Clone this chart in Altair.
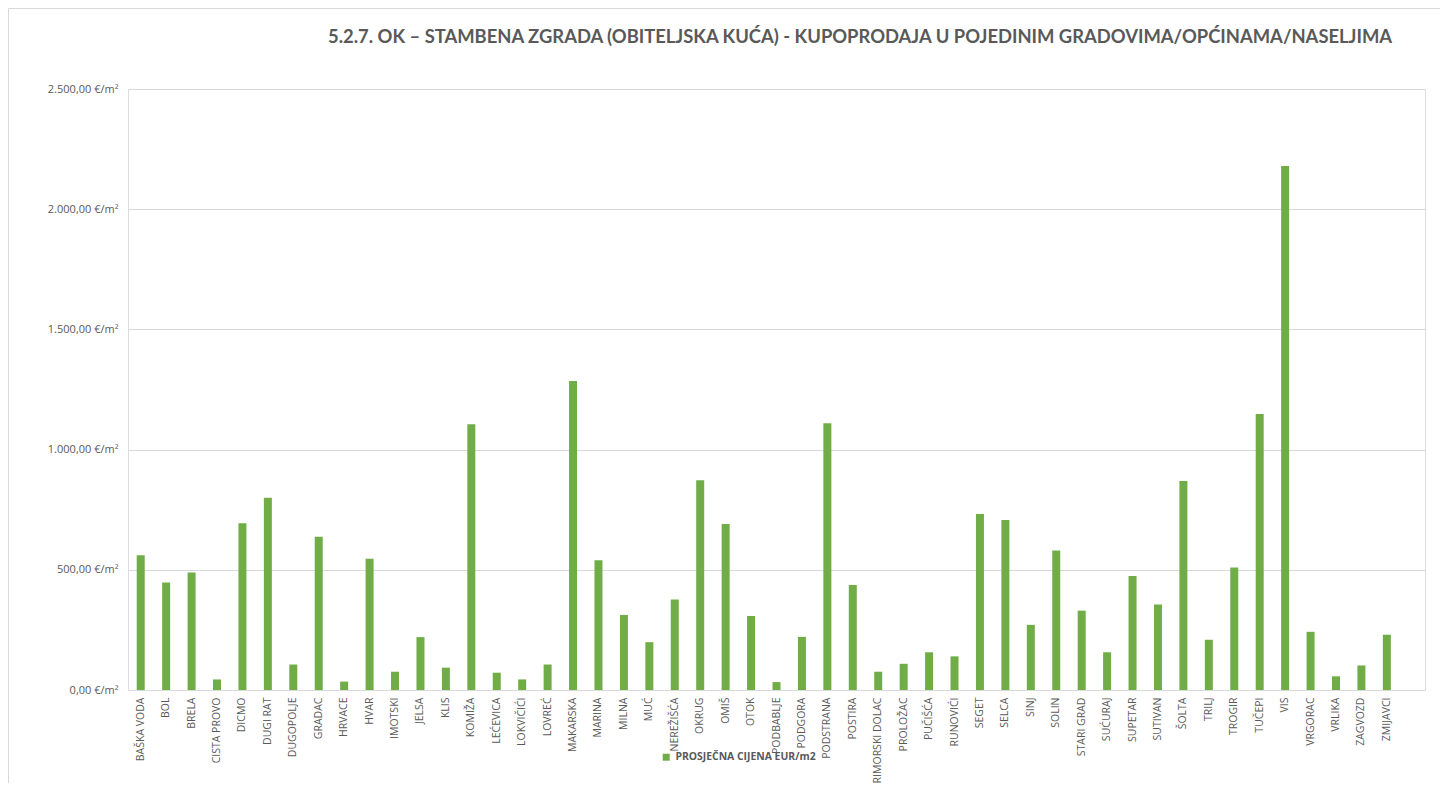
import altair as alt
import pandas as pd

cities = ["BAŠKA VODA", "BOL", "BRELA", "CISTA PROVO", "DICMO", "DUGI RAT", "DUGOPOLJE",
          "GRADAC", "HRVACE", "HVAR", "IMOTSKI", "JELSA", "KLIS", "KOMIŽA", "LEĆEVICA",
          "LOKVIČIĆI", "LOVREĆ", "MAKARSKA", "MARINA", "MILNA", "MUĆ", "NEREŽIŠĆA", "OKRUG",
          "OMIŠ", "OTOK", "PODBABLJE", "PODGORA", "PODSTRANA", "POSTIRA", "PRIMORSKI DOLAC",
          "PROLOŽAC", "PUČIŠĆA", "RUNOVIĆI", "SEGET", "SELCA", "SINJ", "SOLIN", "STARI GRAD",
          "SUĆURAJ", "SUPETAR", "SUTIVAN", "ŠOLTA", "TRILJ", "TROGIR", "TUČEPI", "VIS",
          "VRGORAC", "VRLIKA", "ZAGVOZD", "ZMIJAVCI"]
prices = [561, 447, 489, 44, 694, 800, 106, 637, 35, 546, 76, 220, 93, 1105, 72,
          44, 106, 1285, 540, 312, 199, 376, 873, 691, 308, 33, 221, 1110, 437, 76,
          109, 157, 140, 732, 707, 271, 580, 330, 157, 474, 356, 869, 209, 510, 1148, 2180,
          242, 57, 102, 230]
y_ticks = [0, 500, 1000, 1500, 2000, 2500]
series_name = "PROSJEČNA CIJENA EUR/m2"
title_text = ["5.2.7. OK – STAMBENA ZGRADA (OBITELJSKA KUĆA) - KUPOPRODAJA U POJEDINIM GRADOVIMA/OPĆINAMA/NASELJIMA"]

df = pd.DataFrame({"grad": cities, "cijena": prices, "serija": series_name})

GREEN = "#70AD47"
GREY = "#595959"
GRID = "#D9D9D9"
FONT = "Open Sans"

domain_x = cities + [" "]

bars = alt.Chart(df).mark_bar(size=8).encode(
    x=alt.X("grad:N", scale=alt.Scale(domain=domain_x, paddingInner=0, paddingOuter=0),
            axis=alt.Axis(title=None, labelAngle=-90, labelFontSize=10.5, labelColor=GREY,
                          labelFont=FONT, ticks=False, labelPadding=7, domainColor=GRID,
                          labelOverlap=False, labelLimit=0)),
    y=alt.Y("cijena:Q", scale=alt.Scale(domain=[0, 2500], nice=False),
            axis=alt.Axis(title=None, values=y_ticks, grid=True, gridColor=GRID, domain=False,
                          ticks=False, labelPadding=10, labelFontSize=11, labelColor=GREY,
                          labelFont=FONT,
                          labelExpr="replace(replace(replace(format(datum.value, ',.2f'), ',', '#'), '.', ','), '#', '.') + ' €/m²'")),
    color=alt.Color("serija:N", scale=alt.Scale(domain=[series_name], range=[GREEN]),
                    legend=alt.Legend(title=None, orient="none", legendX=533, legendY=663,
                                      symbolType="square", symbolSize=49, labelFontSize=10.4,
                                      labelFontWeight="bold", labelColor=GREY, labelFont=FONT,
                                      labelOffset=4, symbolStrokeWidth=0)),
)

one = pd.DataFrame({"a": [0]})
left_line = alt.Chart(one).mark_rule(color=GRID, strokeWidth=1).encode(
    x=alt.value(-119.5), y=alt.value(-80.5), y2=alt.value(800))
top_line = alt.Chart(one).mark_rule(color=GRID, strokeWidth=1).encode(
    x=alt.value(-119.5), x2=alt.value(1400), y=alt.value(-80.5))

title = alt.Chart(pd.DataFrame({"t": title_text})).mark_text(
    align="left", baseline="middle", font="Lato", fontSize=18.4, fontWeight="bold", color=GREY
).encode(x=alt.value(200), y=alt.value(-52), text="t:N")

chart = alt.layer(left_line, top_line, title, bars).properties(
    width=1297, height=601,
    autosize=alt.AutoSizeParams(type="none"),
    padding={"left": 120, "top": 81, "right": 15, "bottom": 93},
).configure_view(stroke=None).configure(background="white")

chart.save("out.html", embed_options={"renderer": "svg", "actions": False})
